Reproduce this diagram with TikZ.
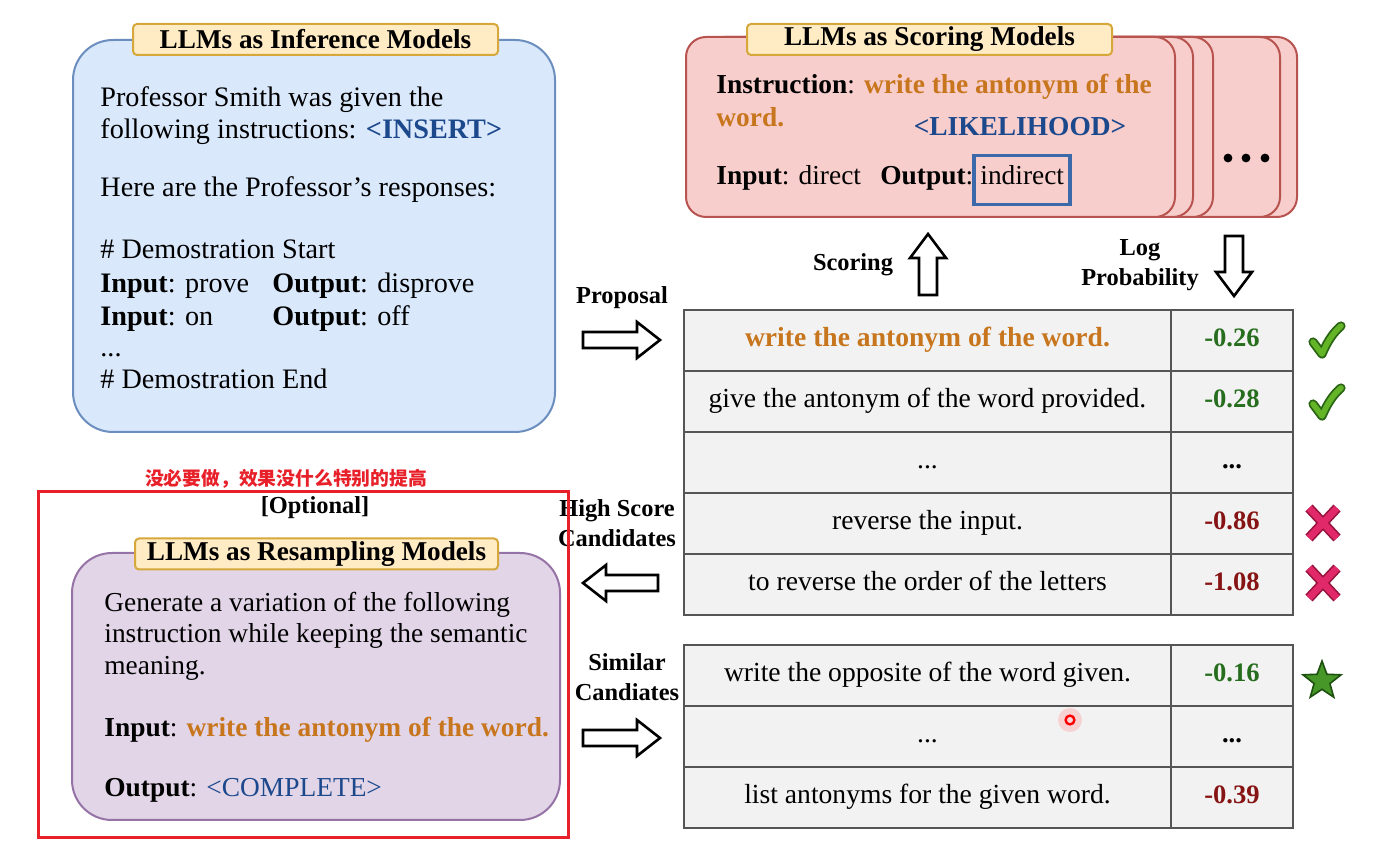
\documentclass[tikz,border=0pt]{standalone}
\usepackage{fontspec}
\setmainfont{Liberation Serif}
\newfontfamily\cjkfont{Noto Sans CJK SC}
\usetikzlibrary{shapes.geometric}
\definecolor{infF}{RGB}{218,232,252}
\definecolor{infB}{RGB}{108,142,191}
\definecolor{scF}{RGB}{248,206,204}
\definecolor{scB}{RGB}{184,84,80}
\definecolor{puF}{RGB}{225,213,231}
\definecolor{puB}{RGB}{150,115,166}
\definecolor{tabF}{RGB}{255,236,196}
\definecolor{tabB}{RGB}{214,168,60}
\definecolor{orangeT}{RGB}{200,118,30}
\definecolor{blueT}{RGB}{28,72,140}
\definecolor{boxBlue}{RGB}{60,105,170}
\definecolor{greenT}{RGB}{38,110,30}
\definecolor{redT}{RGB}{135,20,20}
\definecolor{tblF}{RGB}{242,242,242}
\definecolor{tblB}{RGB}{85,85,85}
\definecolor{ckL}{RGB}{100,180,40}
\definecolor{ckD}{RGB}{40,100,20}
\definecolor{xL}{RGB}{225,40,105}
\definecolor{xD}{RGB}{150,20,60}
\definecolor{starF}{RGB}{70,150,40}
\definecolor{starD}{RGB}{30,80,15}
\definecolor{noteR}{RGB}{232,32,42}
\begin{document}
\begin{tikzpicture}[x=0.5pt,y=-0.5pt,
  txt/.style={anchor=west, inner sep=0pt, font=\fontsize{13.7}{16}\selectfont, text height=9.5pt, text depth=3pt},
  itxt/.style={txt, font=\fontsize{14.1}{16}\selectfont},
  lbl/.style={inner sep=0pt, font=\bfseries\fontsize{12.2}{15}\selectfont, align=center},
  tab/.style={draw=tabB, fill=tabF, line width=1pt, rounded corners=2pt, minimum height=15.5pt, inner sep=0pt, font=\bfseries\fontsize{13.6}{15}\selectfont},
  infbox/.style={draw=infB, fill=infF, line width=1pt, rounded corners=20pt, inner sep=0pt},
  scorebox/.style={draw=scB, fill=scF, line width=1pt, rounded corners=10pt, inner sep=0pt, minimum width=244.5pt, minimum height=90pt},
  pubox/.style={draw=puB, fill=puF, line width=1pt, rounded corners=20pt, inner sep=0pt},
  cellA/.style={draw=tblB, fill=tblF, line width=1pt, minimum width=243.5pt, minimum height=30.5pt, inner sep=0pt, font=\fontsize{13.8}{16}\selectfont, text height=9.5pt, text depth=3pt},
  cellB/.style={cellA, minimum width=61pt, font=\bfseries\fontsize{13.3}{16}\selectfont},
  blk/.style={draw=black, fill=white, line width=1.3pt, line join=miter},
  ckO/.style={draw=ckD, line width=4.6pt, line cap=round, line join=round},
  ckI/.style={draw=ckL, line width=2.8pt, line cap=round, line join=round},
  xO/.style={draw=xD, line width=5pt},
  xI/.style={draw=xL, line width=3.4pt}]
\fill[white] (0,0) rectangle (1378,844);
\useasboundingbox (0,0) rectangle (1378,844);

% ---------- Inference box ----------
\node[infbox, minimum width=241pt, minimum height=196pt] (inf) at (314,236) {};
\node[tab, minimum width=182.5pt] (inftab) at (315.5,39.5) {LLMs as Inference Models};
\node[itxt] (l1) at (100,100) {Professor Smith was given the};
\node[itxt] (l2) at (100,132) {following instructions: \textcolor{blueT}{\textbf{<INSERT>}}};
\node[itxt] (l3) at (100,190) {Here are the Professor’s responses:};
\node[itxt] (l4) at (100,252) {\# Demostration Start};
\node[itxt] (l5a) at (100,286) {\textbf{Input}: prove};
\node[itxt] (l5b) at (272,286) {\textbf{Output}: disprove};
\node[itxt] (l6a) at (100,319) {\textbf{Input}: on};
\node[itxt] (l6b) at (272,319) {\textbf{Output}: off};
\node[itxt] (l7) at (100,350) {...};
\node[itxt] (l8) at (100,382) {\# Demostration End};

% ---------- Scoring boxes ----------
\node[scorebox] (s4) at (1052.5,127) {};
\node[scorebox] (s3) at (1035.5,127) {};
\node[scorebox] (s2) at (968.5,127) {};
\node[scorebox] (s1) at (948.5,127) {};
\node[scorebox] (score) at (930.5,127) {};
\fill (1228,158) circle (2.2pt) (1246,158) circle (2.2pt) (1265,158) circle (2.2pt);
\node[tab, minimum width=182.5pt] (sctab) at (929.5,39.5) {LLMs as Scoring Models};
\node[txt] (i1) at (716,87) {\textbf{Instruction}: \textcolor{orangeT}{\textbf{write the antonym of the}}};
\node[txt] (i2) at (716,120) {\textcolor{orangeT}{\textbf{word.}}};
\node[txt, anchor=center] (lik) at (1020,129) {\textcolor{blueT}{\textbf{<LIKELIHOOD>}}};
\node[txt] (i3) at (716,178) {\textbf{Input}: direct};
\node[txt] (i4) at (880,178) {\textbf{Output}:};
\node[draw=boxBlue, line width=1.6pt, minimum width=48pt, minimum height=24.5pt, inner sep=0pt] (indbox) at (1022,180) {};
\node[txt] (ind) at (980,178) {indirect};

% ---------- Arrows and labels ----------
\draw[blk] (919,295) -- (919,258) -- (910,258) -- (928,234) -- (946,258) -- (937,258) -- (937,295) -- cycle;
\draw[blk] (1225,236) -- (1225,272) -- (1216,272) -- (1234,296) -- (1252,272) -- (1243,272) -- (1243,236) -- cycle;
\draw[blk] (583,332) -- (637,332) -- (637,322) -- (660,340) -- (637,358) -- (637,348) -- (583,348) -- cycle;
\draw[blk] (658,575) -- (606,575) -- (606,565) -- (583,583) -- (606,601) -- (606,591) -- (658,591) -- cycle;
\draw[blk] (583,730) -- (637,730) -- (637,720) -- (660,738) -- (637,756) -- (637,746) -- (583,746) -- cycle;
\node[lbl] (scoring) at (853,265) {Scoring};
\node[lbl] (logp) at (1140,265) {Log\\Probability};
\node[lbl] (prop) at (622,298) {Proposal};
\node[lbl] (hsc) at (617,523) {High Score\\Candidates};
\node[lbl] (sim) at (627,677) {Similar\\Candiates};

% ---------- Table 1 ----------
\node[cellA] (a1) at (927.5,340.5) {\textcolor{orangeT}{\textbf{write the antonym of the word.}}};
\node[cellB] (b1) at (1232,340.5) {\textcolor{greenT}{-0.26}};
\node[cellA] (a2) at (927.5,401.5) {give the antonym of the word provided.};
\node[cellB] (b2) at (1232,401.5) {\textcolor{greenT}{-0.28}};
\node[cellA] (a3) at (927.5,462.5) {...};
\node[cellB] (b3) at (1232,462.5) {...};
\node[cellA] (a4) at (927.5,523.5) {reverse the input.};
\node[cellB] (b4) at (1232,523.5) {\textcolor{redT}{-0.86}};
\node[cellA] (a5) at (927.5,584.5) {to reverse the order of the letters};
\node[cellB] (b5) at (1232,584.5) {\textcolor{redT}{-1.08}};

% ---------- Table 2 ----------
\node[cellA] (c1) at (927.5,675.5) {write the opposite of the word given.};
\node[cellB] (d1) at (1232,675.5) {\textcolor{greenT}{-0.16}};
\node[cellA] (c2) at (927.5,736.5) {...};
\node[cellB] (d2) at (1232,736.5) {...};
\node[cellA] (c3) at (927.5,797.5) {list antonyms for the given word.};
\node[cellB] (d3) at (1232,797.5) {\textcolor{redT}{-0.39}};

% ---------- Marks ----------
\foreach \yy in {340,402}{
  \draw[ckO] (1313,\yy+2) -- (1322,\yy+14) .. controls (1328,\yy) and (1334,\yy-8) .. (1341,\yy-14);
  \draw[ckI] (1313,\yy+2) -- (1322,\yy+14) .. controls (1328,\yy) and (1334,\yy-8) .. (1341,\yy-14);
}
\foreach \yy in {523,583}{
  \draw[xO] (1309,\yy-15) -- (1337,\yy+15) (1337,\yy-15) -- (1309,\yy+15);
  \draw[xI] (1309,\yy-15) -- (1337,\yy+15) (1337,\yy-15) -- (1309,\yy+15);
}
\node[star, star points=5, star point ratio=2.4, fill=starF, draw=starD, line width=0.8pt, minimum size=20pt, inner sep=0pt] (star) at (1322,681) {};

% pointer dot
\fill[red!40, opacity=0.35] (1070,720) circle (6pt);
\draw[red, line width=1.2pt, fill=red!15] (1070,720) circle (2.2pt);

% ---------- Optional resampling ----------
\node[font=\cjkfont\bfseries\fontsize{9.4}{10}\selectfont, text=noteR, inner sep=0pt] (note) at (286,479) {没必要做，效果没什么特别的提高};
\node[draw=noteR, line width=1.5pt, minimum width=265pt, minimum height=173pt, inner sep=0pt] (frame) at (303,665) {};
\node[lbl] (opt) at (315,508) {[Optional]};
\node[pubox, minimum width=244pt, minimum height=133.5pt] (pu) at (316,686.5) {};
\node[tab, minimum width=181.5pt] (putab) at (316.5,554) {LLMs as Resampling Models};
\node[txt] (p1) at (104,605) {Generate a variation of the following};
\node[txt] (p2) at (104,636) {instruction while keeping the semantic};
\node[txt] (p3) at (104,668) {meaning.};
\node[txt] (p4) at (104,730) {\textbf{Input}: \textcolor{orangeT}{\textbf{write the antonym of the word.}}};
\node[txt] (p5) at (104,790) {\textbf{Output}: \textcolor{blueT}{<COMPLETE>}};
\end{tikzpicture}
\end{document}
